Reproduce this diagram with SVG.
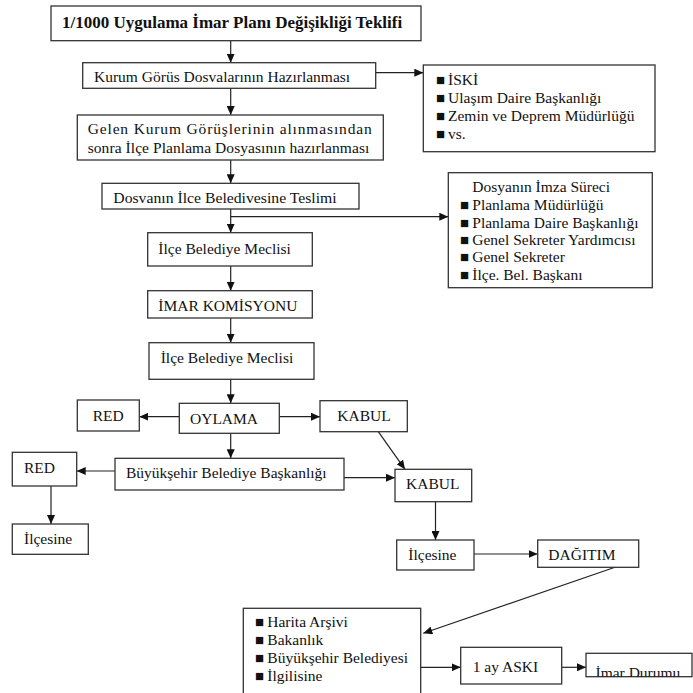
<svg xmlns="http://www.w3.org/2000/svg" width="693" height="693" viewBox="0 0 693 693">
<style>
text{font-family:"Liberation Serif","Times New Roman",serif;font-size:15.5px;fill:#111}
.b{stroke:#333;stroke-width:1.3;fill:#fff}
.t{font-weight:bold;font-size:17px}
.bl{font-size:15px}
.c line{stroke:#222;stroke-width:1.2;marker-end:url(#ah)}
</style>
<defs>
<marker id="ah" markerUnits="userSpaceOnUse" markerWidth="10" markerHeight="8" refX="9" refY="4" orient="auto">
<path d="M0,0 L9,4 L0,8 z" fill="#111"/>
</marker>
<clipPath id="cl"><rect x="586" y="653.3" width="106" height="23.4"/></clipPath>
</defs>

<g class="c" id="connectors">
<line x1="230.7" y1="41" x2="230.7" y2="62.7"/>
<line x1="375.7" y1="72.7" x2="423.3" y2="72.7"/>
<line x1="230.7" y1="88.3" x2="230.7" y2="115"/>
<line x1="230.7" y1="160" x2="230.7" y2="183.3"/>
<line x1="230.7" y1="209" x2="230.7" y2="232.7"/>
<line x1="230.7" y1="216.7" x2="448.3" y2="216.7"/>
<line x1="230.7" y1="266" x2="230.7" y2="290.7"/>
<line x1="230.7" y1="318" x2="230.7" y2="342.7"/>
<line x1="230.7" y1="379.3" x2="230.7" y2="403.3"/>
<line x1="179.3" y1="416.7" x2="139.3" y2="416.7"/>
<line x1="279.3" y1="416.7" x2="320" y2="416.7"/>
<line x1="230.7" y1="433.3" x2="230.7" y2="458.3"/>
<line x1="115" y1="471" x2="76.7" y2="471"/>
<line x1="51" y1="486" x2="51" y2="524"/>
<line x1="344" y1="477.7" x2="395" y2="477.7"/>
<line x1="378.3" y1="431.7" x2="405" y2="469.3"/>
<line x1="435.5" y1="501.7" x2="435.5" y2="540"/>
<line x1="474" y1="554" x2="537.7" y2="554"/>
<line x1="615" y1="567.3" x2="423.3" y2="633.3"/>
<line x1="420.7" y1="667.3" x2="460.7" y2="667.3"/>
<line x1="561.7" y1="667.3" x2="586" y2="667.3"/>
</g>

<g id="title">
<rect class="b" x="51" y="6" width="370" height="34.7"/>
<text class="t" x="62" y="28">1/1000 Uygulama İmar Planı Değişikliği Teklifi</text>
</g>

<g id="kurum">
<rect class="b" x="82.7" y="62.7" width="293" height="25.6"/>
<text x="94" y="81.7">Kurum Görüs Dosvalarının Hazırlanması</text>
</g>

<g id="iski">
<rect class="b" x="423.3" y="65" width="231.7" height="86.7"/>
<text x="436" y="85"><tspan class="bl">■</tspan><tspan x="448">İSKİ</tspan></text>
<text x="436" y="103.3"><tspan class="bl">■</tspan><tspan x="448">Ulaşım Daire Başkanlığı</tspan></text>
<text x="436" y="121"><tspan class="bl">■</tspan><tspan x="448">Zemin ve Deprem Müdürlüğü</tspan></text>
<text x="436" y="139.3"><tspan class="bl">■</tspan><tspan x="448">vs.</tspan></text>
</g>

<g id="gelen">
<rect class="b" x="77.3" y="115" width="306" height="45"/>
<text x="87.7" y="133.5" textLength="284" lengthAdjust="spacing">Gelen Kurum Görüşlerinin alınmasından</text>
<text x="87.7" y="152.7" textLength="281.6" lengthAdjust="spacing">sonra İlçe Planlama Dosyasının hazırlanması</text>
</g>

<g id="teslim">
<rect class="b" x="102" y="183.3" width="257" height="25.7"/>
<text x="113.3" y="202.7" textLength="223.4" lengthAdjust="spacingAndGlyphs">Dosvanın İlce Beledivesine Teslimi</text>
</g>

<g id="imza">
<rect class="b" x="448.3" y="172.7" width="204" height="115"/>
<text x="472.3" y="192.3">Dosyanın İmza Süreci</text>
<text x="460" y="210"><tspan class="bl">■</tspan><tspan x="472.3">Planlama Müdürlüğü</tspan></text>
<text x="460" y="227.7"><tspan class="bl">■</tspan><tspan x="472.3">Planlama Daire Başkanlığı</tspan></text>
<text x="460" y="245"><tspan class="bl">■</tspan><tspan x="472.3">Genel Sekreter Yardımcısı</tspan></text>
<text x="460" y="262.3"><tspan class="bl">■</tspan><tspan x="472.3">Genel Sekreter</tspan></text>
<text x="460" y="280"><tspan class="bl">■</tspan><tspan x="472.3">İlçe. Bel. Başkanı</tspan></text>
</g>

<g id="meclis1">
<rect class="b" x="147.7" y="232.7" width="164.6" height="33.3"/>
<text x="158.3" y="253.5">İlçe Belediye Meclisi</text>
</g>

<g id="komisyon">
<rect class="b" x="147.7" y="290.7" width="164.6" height="27.3"/>
<text x="158.3" y="310.7">İMAR KOMİSYONU</text>
</g>

<g id="meclis2">
<rect class="b" x="149" y="342.7" width="165" height="36.6"/>
<text x="160.7" y="363">İlçe Belediye Meclisi</text>
</g>

<g id="oylama">
<rect class="b" x="179.3" y="403.3" width="100" height="30"/>
<text x="190" y="423.5">OYLAMA</text>
</g>

<g id="red1">
<rect class="b" x="77.3" y="400" width="62" height="31"/>
<text x="92.7" y="420.7">RED</text>
</g>

<g id="kabul1">
<rect class="b" x="320" y="400.7" width="87.3" height="31"/>
<text x="337.3" y="420.7">KABUL</text>
</g>

<g id="buyuksehir">
<rect class="b" x="115" y="458.3" width="229" height="31.7"/>
<text x="126" y="477.5">Büyükşehir Belediye Başkanlığı</text>
</g>

<g id="red2">
<rect class="b" x="12.3" y="452.3" width="64.4" height="33.7"/>
<text x="24" y="472.7">RED</text>
</g>

<g id="ilcesine1">
<rect class="b" x="12.3" y="524" width="76" height="30.3"/>
<text x="24" y="544">İlçesine</text>
</g>

<g id="kabul2">
<rect class="b" x="395" y="469.3" width="76.7" height="32.4"/>
<text x="406" y="489">KABUL</text>
</g>

<g id="ilcesine2">
<rect class="b" x="396.7" y="540" width="77.3" height="30"/>
<text x="408.3" y="560">İlçesine</text>
</g>

<g id="dagitim">
<rect class="b" x="537.7" y="540" width="101" height="27.3"/>
<text x="548.3" y="560">DAĞITIM</text>
</g>

<g id="harita">
<rect class="b" x="243.3" y="608.3" width="177.4" height="95"/>
<text x="255" y="627.3"><tspan class="bl">■</tspan><tspan x="267.3">Harita Arşivi</tspan></text>
<text x="255" y="645.3"><tspan class="bl">■</tspan><tspan x="267.3">Bakanlık</tspan></text>
<text x="255" y="663.3"><tspan class="bl">■</tspan><tspan x="267.3">Büyükşehir Belediyesi</tspan></text>
<text x="255" y="680.7"><tspan class="bl">■</tspan><tspan x="267.3">İlgilisine</tspan></text>
</g>

<g id="aski">
<rect class="b" x="460.7" y="647.3" width="101" height="36.7"/>
<text x="472.7" y="671.7">1 ay ASKI</text>
</g>

<g id="imardurumu">
<rect class="b" x="586" y="653.3" width="106" height="23.4"/>
<text x="595.5" y="677.5" clip-path="url(#cl)">İmar Durumu</text>
</g>
</svg>
